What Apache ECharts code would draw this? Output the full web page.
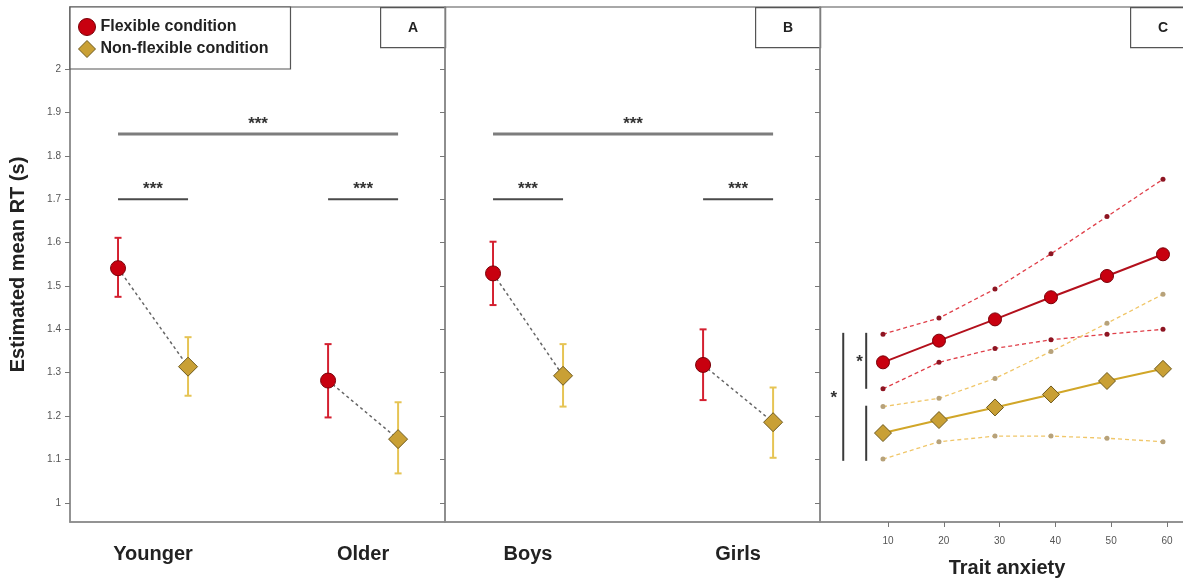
<!DOCTYPE html>
<html>
<head>
<meta charset="utf-8">
<script src="https://cdn.jsdelivr.net/npm/echarts@6/dist/echarts.min.js"></script>
<style>html,body{margin:0;padding:0;background:#fff}#chart{width:1183px;height:581px}</style>
</head>
<body>
<div id="chart"></div>
<script>
'use strict';

// Panel A — age groups
const ageGroups = ['Younger', 'Older'];
const ageFlex = [1.541, 1.282];
const ageFlexLo = [1.475, 1.197];
const ageFlexHi = [1.611, 1.366];
const ageNonFlex = [1.314, 1.147];
const ageNonFlexLo = [1.247, 1.068];
const ageNonFlexHi = [1.382, 1.232];

// Panel B — gender
const sexGroups = ['Boys', 'Girls'];
const sexFlex = [1.529, 1.318];
const sexFlexLo = [1.456, 1.237];
const sexFlexHi = [1.602, 1.400];
const sexNonFlex = [1.293, 1.186];
const sexNonFlexLo = [1.222, 1.104];
const sexNonFlexHi = [1.366, 1.266];

// Panel C — trait anxiety (estimate and band)
const anxiety = [10, 20, 30, 40, 50, 60];
const anxFlex = [1.324, 1.374, 1.423, 1.474, 1.523, 1.573];
const anxFlexHi = [1.389, 1.426, 1.493, 1.574, 1.660, 1.746];
const anxFlexLo = [1.263, 1.324, 1.356, 1.376, 1.389, 1.400];
const anxNonFlex = [1.161, 1.191, 1.220, 1.250, 1.281, 1.309];
const anxNonFlexHi = [1.222, 1.241, 1.287, 1.349, 1.414, 1.481];
const anxNonFlexLo = [1.101, 1.141, 1.154, 1.154, 1.149, 1.141];

const yTicks = [1, 1.1, 1.2, 1.3, 1.4, 1.5, 1.6, 1.7, 1.8, 1.9, 2];
const anxTicks = [10, 20, 30, 40, 50, 60];

// significance bars for A/B: [from x, to x, y, label]
const sigPairs = [[1, 5, 1.85, '***'], [1, 2, 1.70, '***'], [4, 5, 1.70, '***']];
// panel C: vertical bars [x, yLow, yHigh] and stars [x, y, label]
const sigCLines = [[7, 1.263, 1.392], [7, 1.097, 1.224], [2.9, 1.097, 1.392]];
const sigCStars = [[5.8, 1.325, '*'], [1.2, 1.242, '*']];

const FONT = '"Liberation Sans", Arial, sans-serif';
const FLEX = '#c8000f', FLEX_EDGE = '#7a0008', FLEX_BAR = '#d42030';
const NONF = '#c9a035', NONF_EDGE = '#6e5a1e', NONF_BAR = '#e6c454';
const FRAME = '#8c8c8c';

const xOf = (g, c) => 1 + 3 * g + c; // c: 0 flexible, 1 non-flexible

function errorBars(color) {
  return (params, api) => {
    const x = api.value(0);
    const lo = api.coord([x, api.value(1)]);
    const hi = api.coord([x, api.value(2)]);
    const w = 3.5;
    const style = { stroke: color, lineWidth: 2 };
    return { type: 'group', children: [
      { type: 'line', shape: { x1: lo[0], y1: lo[1], x2: hi[0], y2: hi[1] }, style },
      { type: 'line', shape: { x1: lo[0] - w, y1: lo[1], x2: lo[0] + w, y2: lo[1] }, style },
      { type: 'line', shape: { x1: hi[0] - w, y1: hi[1], x2: hi[0] + w, y2: hi[1] }, style }
    ] };
  };
}

function sigBars(params, api) {
  const row = sigPairs[params.dataIndex];
  const a = api.coord([row[0], row[2]]);
  const b = api.coord([row[1], row[2]]);
  const long = row[1] - row[0] > 2;
  return { type: 'group', children: [
    { type: 'line', shape: { x1: a[0], y1: a[1], x2: b[0], y2: b[1] },
      style: { stroke: long ? '#7d7d7d' : '#4a4a4a', lineWidth: long ? 3 : 2 } },
    { type: 'text', x: (a[0] + b[0]) / 2, y: a[1] - 10,
      style: { text: row[3], fill: '#333', font: 'bold 17px ' + FONT, align: 'center', verticalAlign: 'middle' } }
  ] };
}

function pairPanel(i, groups, flex, flexLo, flexHi, nonf, nonfLo, nonfHi) {
  const axes = { xAxisIndex: i, yAxisIndex: i };
  const out = [];
  groups.forEach((_, g) => {
    out.push(Object.assign({
      type: 'line', silent: true, symbol: 'none', z: 2,
      lineStyle: { color: '#666', width: 1.5, type: [3, 3] },
      data: [[xOf(g, 0), flex[g]], [xOf(g, 1), nonf[g]]]
    }, axes));
  });
  out.push(Object.assign({ type: 'custom', z: 3, renderItem: errorBars(FLEX_BAR),
    data: groups.map((_, g) => [xOf(g, 0), flexLo[g], flexHi[g]]) }, axes));
  out.push(Object.assign({ type: 'custom', z: 3, renderItem: errorBars(NONF_BAR),
    data: groups.map((_, g) => [xOf(g, 1), nonfLo[g], nonfHi[g]]) }, axes));
  out.push(Object.assign({ type: 'scatter', name: 'Flexible condition', z: 5,
    symbol: 'circle', symbolSize: 15,
    itemStyle: { color: FLEX, borderColor: FLEX_EDGE, borderWidth: 1, opacity: 1 },
    data: groups.map((_, g) => [xOf(g, 0), flex[g]]) }, axes));
  out.push(Object.assign({ type: 'scatter', name: 'Non-flexible condition', z: 5,
    symbol: 'diamond', symbolSize: 19,
    itemStyle: { color: NONF, borderColor: NONF_EDGE, borderWidth: 1, opacity: 1 },
    data: groups.map((_, g) => [xOf(g, 1), nonf[g]]) }, axes));
  out.push(Object.assign({ type: 'custom', z: 4, renderItem: sigBars,
    data: sigPairs.map((r) => [r[0], r[2]]) }, axes));
  return out;
}

function bandLine(vals, lineColor, dotColor) {
  return {
    type: 'line', xAxisIndex: 3, yAxisIndex: 2, z: 3, silent: true,
    symbol: 'circle', symbolSize: 5, showSymbol: true,
    lineStyle: { color: lineColor, width: 1.3, type: [4, 3] },
    itemStyle: { color: dotColor },
    data: anxiety.map((a, k) => [a, vals[k]])
  };
}

function sigVertical(params, api) {
  const row = sigCLines[params.dataIndex];
  const a = api.coord([row[0], row[1]]);
  const b = api.coord([row[0], row[2]]);
  return { type: 'line', shape: { x1: a[0], y1: a[1], x2: b[0], y2: b[1] },
    style: { stroke: '#3a3a3a', lineWidth: 2 } };
}
function sigStar(params, api) {
  const row = sigCStars[params.dataIndex];
  const p = api.coord([row[0], row[1]]);
  return { type: 'text', x: p[0], y: p[1],
    style: { text: row[2], fill: '#333', font: 'bold 17px ' + FONT, align: 'center', verticalAlign: 'middle' } };
}

const pairXAxis = (gridIndex, groups) => ({
  type: 'value', gridIndex, min: 0.314, max: 5.67,
  axisLine: { show: true, onZero: false, lineStyle: { color: FRAME, width: 1.5 } },
  axisTick: { show: false }, splitLine: { show: false },
  axisLabel: {
    customValues: groups.map((_, g) => xOf(g, 0.5)),
    formatter: (v) => groups[Math.round((v - 1.5) / 3)],
    margin: 22, color: '#222', fontFamily: FONT, fontWeight: 'bold', fontSize: 20
  }
});

const yAxisFor = (gridIndex, labels) => ({
  type: 'value', gridIndex, min: 0.956, max: 2.143,
  axisLine: { show: true, onZero: false, lineStyle: { color: FRAME, width: 1.5 } },
  axisTick: { show: true, customValues: yTicks, length: 5, lineStyle: { color: '#777' } },
  axisLabel: { show: labels, customValues: yTicks, formatter: (v) => String(+v.toFixed(1)),
    color: '#555', fontSize: 10, fontFamily: FONT, margin: 9 },
  splitLine: { show: false },
  name: labels ? 'Estimated mean RT (s)' : '',
  nameLocation: 'middle', nameGap: 42,
  nameTextStyle: { color: '#222', fontFamily: FONT, fontWeight: 'bold', fontSize: 20 }
});

const gridBase = { top: 7, bottom: 59, show: true, borderColor: FRAME, borderWidth: 1.5,
  containLabel: false, outerBoundsMode: 'none' };

const option = {
  backgroundColor: '#fff',
  animation: false,
  textStyle: { fontFamily: FONT },
  grid: [
    Object.assign({ left: 70, width: 375 }, gridBase),
    Object.assign({ left: 445, width: 375 }, gridBase),
    Object.assign({ left: 820, width: 366 }, gridBase)
  ],
  xAxis: [
    pairXAxis(0, ageGroups),
    pairXAxis(1, sexGroups),
    {
      type: 'value', gridIndex: 2, min: -2.186, max: 63.41,
      axisLine: { show: true, onZero: false, lineStyle: { color: FRAME, width: 1.5 } },
      axisTick: { show: true, customValues: anxTicks, length: 5, lineStyle: { color: '#777' } },
      axisLabel: { customValues: anxTicks, color: '#555', fontSize: 10, fontFamily: FONT, margin: 14 },
      splitLine: { show: false },
      name: 'Trait anxiety', nameLocation: 'middle', nameGap: 36,
      nameTextStyle: { color: '#222', fontFamily: FONT, fontWeight: 'bold', fontSize: 20, padding: [0, 0, 0, 8] }
    },
    { type: 'value', gridIndex: 2, min: -1.25, max: 64.11, show: false, axisLine: { onZero: false } }
  ],
  yAxis: [yAxisFor(0, true), yAxisFor(1, false), yAxisFor(2, false)],
  legend: {
    left: 70, top: 7, orient: 'vertical', selectedMode: false,
    itemWidth: 17, itemHeight: 17, itemGap: 4,
    padding: [11, 22, 11, 8], borderColor: '#555', borderWidth: 1.2, backgroundColor: '#fff',
    textStyle: { fontFamily: FONT, fontWeight: 'bold', fontSize: 16, color: '#222' },
    data: [
      { name: 'Flexible condition', icon: 'circle', itemStyle: { color: FLEX, borderColor: FLEX_EDGE, borderWidth: 1 } },
      { name: 'Non-flexible condition', icon: 'diamond', itemStyle: { color: NONF, borderColor: NONF_EDGE, borderWidth: 1 } }
    ]
  },
  graphic: ['A', 'B', 'C'].map((t, k) => ({
    type: 'group', left: 380 + 375 * k, top: 7,
    children: [
      { type: 'rect', shape: { x: 0, y: 0, width: 65, height: 40 }, style: { fill: '#fff', stroke: '#555', lineWidth: 1.2 } },
      { type: 'text', x: 32.5, y: 21, style: { text: t, fill: '#222', font: 'bold 14px ' + FONT, align: 'center', verticalAlign: 'middle' } }
    ]
  })),
  series: [].concat(
    pairPanel(0, ageGroups, ageFlex, ageFlexLo, ageFlexHi, ageNonFlex, ageNonFlexLo, ageNonFlexHi),
    pairPanel(1, sexGroups, sexFlex, sexFlexLo, sexFlexHi, sexNonFlex, sexNonFlexLo, sexNonFlexHi),
    [
      bandLine(anxFlexHi, '#e0404a', '#8e1522'),
      bandLine(anxFlexLo, '#e0404a', '#8e1522'),
      bandLine(anxNonFlexHi, '#f0c668', '#b7a27a'),
      bandLine(anxNonFlexLo, '#f0c668', '#b7a27a'),
      {
        type: 'line', name: 'Flexible condition', xAxisIndex: 3, yAxisIndex: 2, z: 5,
        symbol: 'circle', symbolSize: 13, showSymbol: true,
        lineStyle: { color: '#b3101c', width: 2 },
        itemStyle: { color: FLEX, borderColor: FLEX_EDGE, borderWidth: 1 },
        data: anxiety.map((a, k) => [a, anxFlex[k]])
      },
      {
        type: 'line', name: 'Non-flexible condition', xAxisIndex: 3, yAxisIndex: 2, z: 5,
        symbol: 'diamond', symbolSize: 17, showSymbol: true,
        lineStyle: { color: '#d1a628', width: 2 },
        itemStyle: { color: NONF, borderColor: NONF_EDGE, borderWidth: 1 },
        data: anxiety.map((a, k) => [a, anxNonFlex[k]])
      },
      { type: 'custom', xAxisIndex: 3, yAxisIndex: 2, z: 4, renderItem: sigVertical,
        data: sigCLines.map((r) => [r[0], r[1]]) },
      { type: 'custom', xAxisIndex: 3, yAxisIndex: 2, z: 4, renderItem: sigStar,
        data: sigCStars.map((r) => [r[0], r[1]]) }
    ]
  )
};

const chart = echarts.init(document.getElementById('chart'), null, { renderer: 'canvas' });
chart.setOption(option);
</script>
</body>
</html>
